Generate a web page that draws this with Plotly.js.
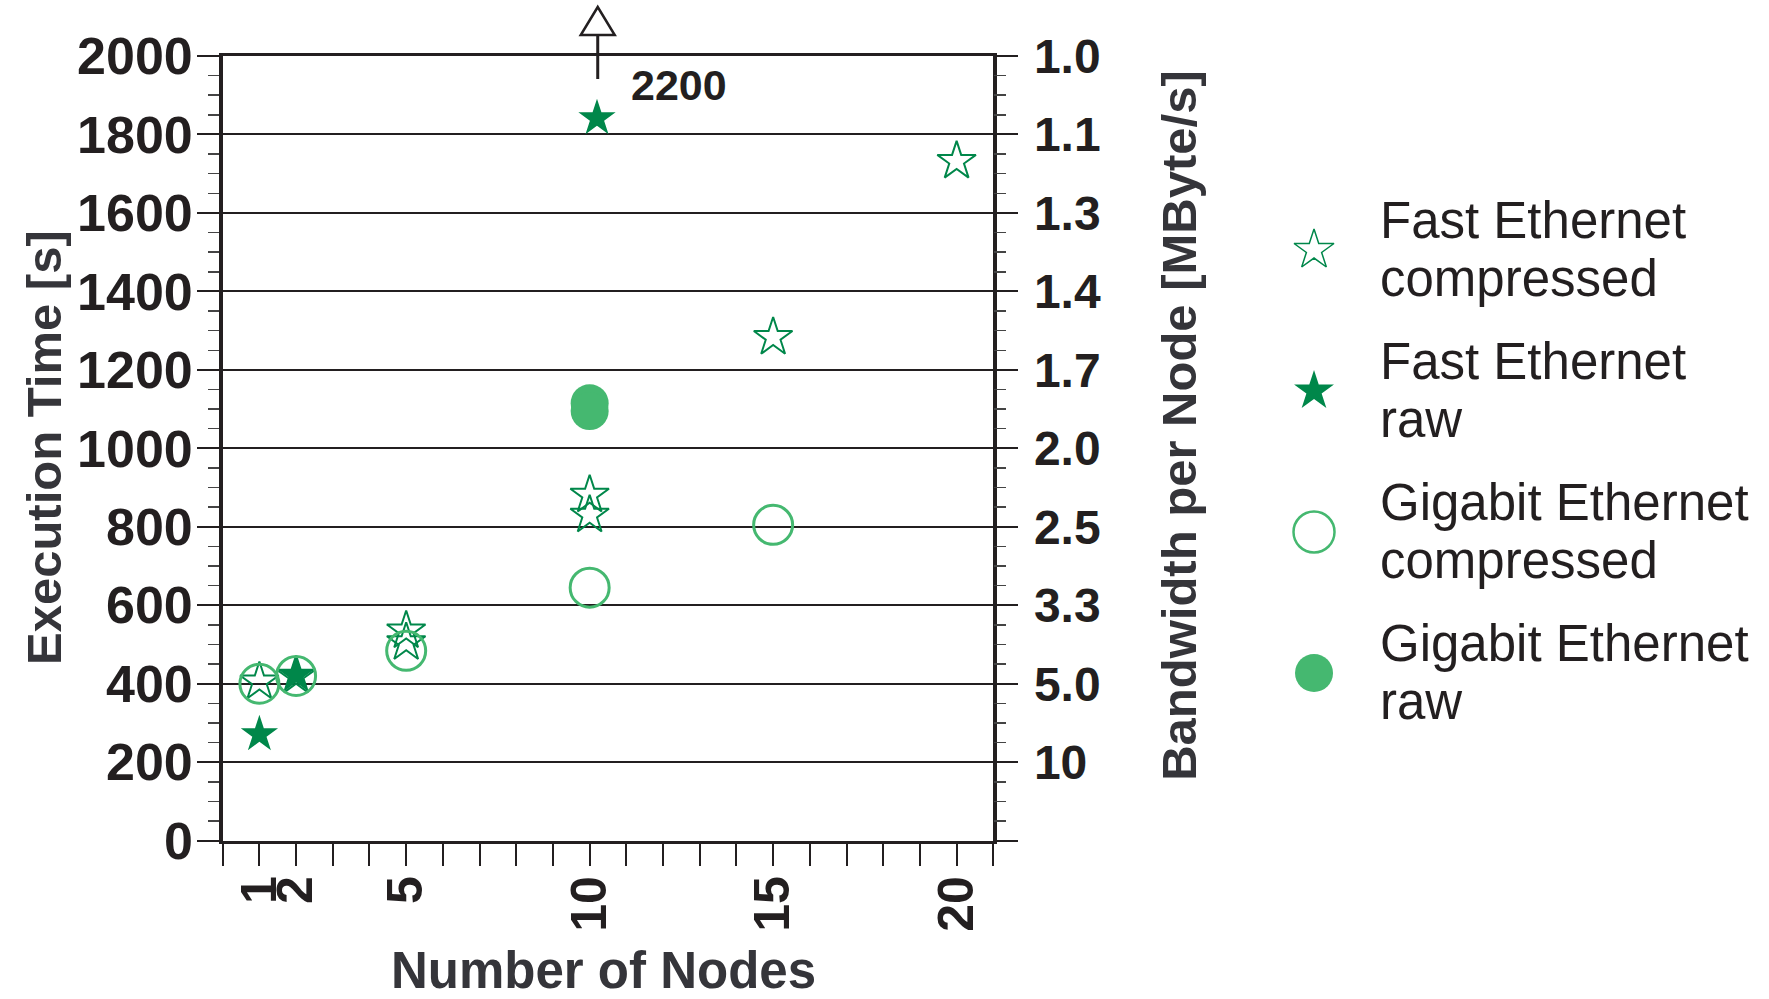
<!DOCTYPE html>
<html>
<head>
<meta charset="utf-8">
<script src="https://cdn.plot.ly/plotly-3.0.1.min.js"></script>
<style>html,body{margin:0;padding:0;background:#fff;}#chart{width:1769px;height:999px;}</style>
</head>
<body>
<div id="chart"></div>
<script>
// ---- data ----
const seriesNames = ['Fast Ethernet compressed', 'Fast Ethernet raw', 'Gigabit Ethernet compressed', 'Gigabit Ethernet raw'];

const fastCompX = [1, 2, 5, 5, 10, 10, 15, 20];
const fastCompY = [405, 420, 535, 505, 881, 830, 1283, 1732];

const fastRawX = [1, 2, 10.2];
const fastRawY = [271, 422, 1841];

const gigaCompX = [1, 2, 5, 10, 15];
const gigaCompY = [400, 420, 484, 645, 805];

const gigaRawX = [10, 10];
const gigaRawY = [1115, 1095];

const offscaleX = [10.22];
const offscaleLabel = ['2200'];

const xLabeled = [1, 2, 5, 10, 15, 20];
const yTickVals = [0, 200, 400, 600, 800, 1000, 1200, 1400, 1600, 1800, 2000];
const bandwidthLabels = ['', '10', '5.0', '3.3', '2.5', '2.0', '1.7', '1.4', '1.3', '1.1', '1.0'];

// ---- styles ----
const dark = '#00874A';
const light = '#45B870';
const ink = '#231F20';
const titleInk = '#35353A';
const FONT = 'Liberation Sans, Arial, sans-serif';
const plotTop = 0.94394;   // top of the y-axis domain (paper units)

const xTickVals = [];
for (let i = 0; i <= 21; i++) xTickVals.push(i);
const xTickText = xTickVals.map(v => xLabeled.includes(v) ? String(v) : '');

const traces = [
  {x: fastCompX, y: fastCompY, type: 'scatter', mode: 'markers', name: seriesNames[0],
   marker: {symbol: 'star-open', size: 29, color: dark, opacity: 1, line: {width: 2, color: dark}}},
  {x: fastRawX, y: fastRawY, type: 'scatter', mode: 'markers', name: seriesNames[1],
   marker: {symbol: 'star', size: 28, color: dark, opacity: 1, line: {width: 0}}},
  {x: gigaCompX, y: gigaCompY, type: 'scatter', mode: 'markers', name: seriesNames[2],
   marker: {symbol: 'circle-open', size: 39, color: light, opacity: 1, line: {width: 3, color: light}}},
  {x: gigaRawX, y: gigaRawY, type: 'scatter', mode: 'markers', name: seriesNames[3],
   marker: {symbol: 'circle', size: 38, color: light, opacity: 1, line: {width: 0}}},
  // y2 carrier (invisible) so the right axis is drawn
  {x: [], y: [], yaxis: 'y2', type: 'scatter', mode: 'markers', showlegend: false, hoverinfo: 'skip'},
  // legend keys
  {x: seriesNames.map(() => 0), y: seriesNames.map((_, i) => i), xaxis: 'x3', yaxis: 'y3',
   type: 'scatter', mode: 'markers', showlegend: false, hoverinfo: 'skip',
   marker: {symbol: ['star-open', 'star', 'circle-open', 'circle'], size: [30, 30, 41, 38], opacity: 1,
            color: [dark, dark, light, light], line: {width: [1.5, 0, 2.5, 0], color: [dark, dark, light, light]}}}
];

const annotations = [];
seriesNames.forEach((n, i) => {
  const k = n.lastIndexOf(' ');
  [n.slice(0, k), n.slice(k + 1)].forEach((t, j) => {
    annotations.push({xref: 'x3', yref: 'y3', x: 0, y: i, xshift: 64, yshift: j === 0 ? 30 : -28,
      xanchor: 'left', yanchor: 'middle', showarrow: false, text: t,
      font: {family: FONT, size: 51, color: ink}});
  });
});
annotations.push(
  {xref: 'paper', yref: 'paper', x: 0.0249, y: 0.5516, textangle: -90, showarrow: false,
   text: 'Execution Time [s]', font: {family: FONT, size: 49, color: titleInk, weight: 'bold'},
   xanchor: 'center', yanchor: 'middle'},
  {xref: 'paper', yref: 'paper', x: 0.6665, y: 0.5738, textangle: -90, showarrow: false,
   text: 'Bandwidth per Node [MByte/s]', font: {family: FONT, size: 49, color: titleInk, weight: 'bold'},
   xanchor: 'center', yanchor: 'middle'},
  {xref: 'paper', yref: 'paper', x: 0.3409, y: 0.029, showarrow: false,
   text: 'Number of Nodes', font: {family: FONT, size: 51, color: titleInk, weight: 'bold'},
   xanchor: 'center', yanchor: 'middle'},
  {xref: 'x', yref: 'paper', x: offscaleX[0], y: plotTop, xshift: 31, yshift: -29, showarrow: false,
   text: offscaleLabel[0], font: {family: FONT, size: 43, color: ink, weight: 'bold'},
   xanchor: 'left', yanchor: 'middle'}
);

const shapes = [
  {type: 'path', xref: 'x', yref: 'paper', xsizemode: 'pixel', ysizemode: 'pixel',
   xanchor: offscaleX[0], yanchor: plotTop, path: 'M 0,21 L 0,-23', line: {color: ink, width: 3}},
  {type: 'path', xref: 'x', yref: 'paper', xsizemode: 'pixel', ysizemode: 'pixel',
   xanchor: offscaleX[0], yanchor: plotTop, path: 'M -17,21 L 17,21 L 0,49 Z',
   fillcolor: '#ffffff', line: {color: ink, width: 2.5}}
];

const layout = {
  width: 1769, height: 999, autosize: false,
  margin: {l: 0, r: 0, t: 0, b: 0},
  paper_bgcolor: '#fff', plot_bgcolor: '#fff',
  showlegend: false,
  font: {family: FONT, color: ink},
  xaxis: {
    domain: [0.12589, 0.56151], range: [0, 21], anchor: 'y',
    tickmode: 'array', tickvals: xTickVals, ticktext: xTickText, tickangle: -90,
    ticks: 'outside', ticklen: 22, tickwidth: 2, tickcolor: ink, ticklabelstandoff: -10,
    tickfont: {family: FONT, size: 50, color: ink, weight: 'bold'},
    showgrid: false, zeroline: false,
    showline: true, linewidth: 3.5, linecolor: ink, mirror: true
  },
  yaxis: {
    domain: [0.15846, plotTop], range: [0, 2000], anchor: 'x',
    tickmode: 'array', tickvals: yTickVals, ticklabelstandoff: -6,
    ticks: 'outside', ticklen: 22, tickwidth: 2, tickcolor: ink,
    tickfont: {family: FONT, size: 52, color: ink, weight: 'bold'},
    minor: {tickmode: 'linear', tick0: 0, dtick: 50, ticks: 'outside', ticklen: 11, tickwidth: 1.5, tickcolor: '#444', showgrid: false},
    showgrid: true, gridcolor: ink, gridwidth: 2, zeroline: false,
    showline: true, linewidth: 3.5, linecolor: ink, mirror: true
  },
  yaxis2: {
    overlaying: 'y', side: 'right', anchor: 'x', range: [0, 2000],
    tickmode: 'array', tickvals: yTickVals, ticktext: bandwidthLabels,
    ticks: 'outside', ticklen: 24, tickwidth: 2, tickcolor: ink,
    tickfont: {family: FONT, size: 48, color: ink, weight: 'bold'},
    ticklabelstandoff: 6,
    minor: {tickmode: 'linear', tick0: 0, dtick: 50, ticks: 'outside', ticklen: 12, tickwidth: 1.5, tickcolor: '#444', showgrid: false},
    showgrid: false, zeroline: false, showline: false
  },
  xaxis3: {domain: [0.7028, 0.7828], range: [-1, 1], anchor: 'y3', visible: false, fixedrange: true},
  yaxis3: {domain: [0.25576, 0.82032], range: [3.5, -0.5], anchor: 'x3', visible: false, fixedrange: true},
  annotations: annotations,
  shapes: shapes
};

Plotly.newPlot('chart', traces, layout, {staticPlot: true, displayModeBar: false});
</script>
</body>
</html>
